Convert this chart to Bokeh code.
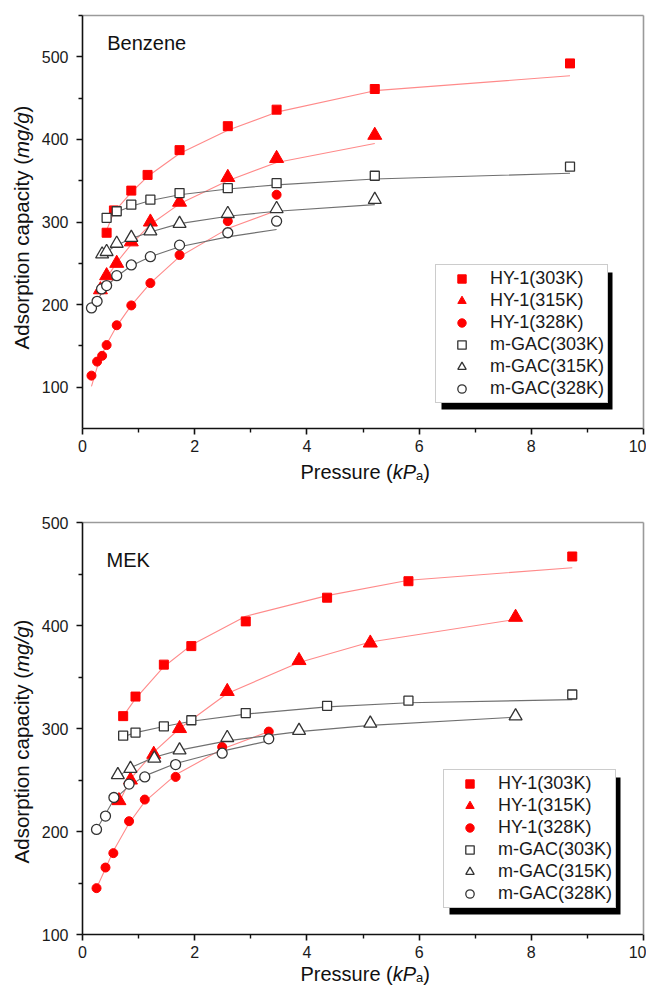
import math
from bokeh.plotting import figure
from bokeh.layouts import column, row
from bokeh.models import (Range1d, FixedTicker, Legend, LegendItem, Label,
                          BoxAnnotation, LinearAxis)
from bokeh.embed import file_html
from bokeh.resources import INLINE

# ---------------- data ----------------
series_labels = ["HY-1(303K)", "HY-1(315K)", "HY-1(328K)",
                 "m-GAC(303K)", "m-GAC(315K)", "m-GAC(328K)"]
x_major = [0, 2, 4, 6, 8, 10]
x_minor = [1, 3, 5, 7, 9]

# Benzene panel
bz_hy303_x = [0.43, 0.56, 0.87, 1.16, 1.73, 2.59, 3.46, 5.21, 8.69]
bz_hy303_y = [287, 314, 338, 357, 387, 416, 436, 461, 492]
bz_hy303_fit = [290, 312, 336, 355, 383, 411, 433, 459, 477]

bz_hy315_x = [0.32, 0.43, 0.61, 0.87, 1.21, 1.73, 2.59, 3.46, 5.21]
bz_hy315_y = [218, 235, 250, 276, 300, 324, 354, 377, 405]
bz_hy315_fit = [218, 232, 251, 273, 297, 322, 350, 372, 395]

bz_hy328_x = [0.16, 0.26, 0.35, 0.43, 0.61, 0.87, 1.21, 1.73, 2.59, 3.46]
bz_hy328_y = [114, 131, 138, 151, 175, 199, 226, 260, 301, 333]
bz_hy328_fit = [101, 124, 140, 152, 174, 199, 226, 258, 292, 314]

bz_gac303_x = [0.43, 0.61, 0.87, 1.21, 1.73, 2.59, 3.46, 5.21, 8.69]
bz_gac303_y = [305, 313, 321, 327, 335, 341, 347, 356, 367]
bz_gac303_fit = [306, 312, 319, 326, 333, 340, 345, 352, 359]

bz_gac315_x = [0.35, 0.43, 0.61, 0.87, 1.21, 1.73, 2.59, 3.46, 5.21]
bz_gac315_y = [261, 264, 274, 281, 289, 298, 310, 316, 327]
bz_gac315_fit = [258, 264, 272, 280, 288, 298, 307, 313, 321]

bz_gac328_x = [0.16, 0.26, 0.34, 0.43, 0.61, 0.87, 1.21, 1.73, 2.59, 3.46]
bz_gac328_y = [196, 204, 219, 223, 235, 248, 258, 272, 287, 301]
bz_gac328_fit = [194, 204, 214, 222, 234, 247, 258, 270, 282, 291]

bz_y_major = [100, 200, 300, 400, 500]
bz_y_minor = [150, 250, 350, 450, 550]

# MEK panel
mk_hy303_x = [0.725, 0.945, 1.45, 1.94, 2.91, 4.36, 5.81, 8.73]
mk_hy303_y = [312, 331, 362, 380, 404, 427, 443, 467]
mk_hy303_fit = [312, 329, 360, 381, 409, 429, 444, 456]

mk_hy315_x = [0.65, 0.855, 1.27, 1.73, 2.58, 3.86, 5.13, 7.72]
mk_hy315_y = [230, 250, 275, 300, 336, 366, 383, 408]
mk_hy315_fit = [228, 251, 277, 300, 334, 364, 384, 406]

mk_hy328_x = [0.25, 0.41, 0.55, 0.83, 1.11, 1.66, 2.49, 3.32]
mk_hy328_y = [145, 165, 179, 210, 231, 253, 282, 297]
mk_hy328_fit = [145, 164, 181, 208, 229, 255, 280, 297]

mk_gac303_x = [0.725, 0.945, 1.45, 1.94, 2.91, 4.36, 5.81, 8.73]
mk_gac303_y = [293, 296, 302, 308, 315, 322, 327, 333]
mk_gac303_fit = [292, 296, 302, 307, 314, 321, 325, 328]

mk_gac315_x = [0.63, 0.855, 1.28, 1.73, 2.58, 3.86, 5.13, 7.72]
mk_gac315_y = [255, 261, 271, 279, 291, 298, 305, 312]
mk_gac315_fit = [253, 262, 272, 279, 288, 297, 303, 311]

mk_gac328_x = [0.25, 0.41, 0.56, 0.83, 1.11, 1.66, 2.49, 3.32]
mk_gac328_y = [202, 215, 233, 246, 253, 265, 276, 290]
mk_gac328_fit = [202, 217, 231, 244, 254, 266, 278, 288]

mk_y_major = [100, 200, 300, 400, 500]
mk_y_minor = [150, 250, 350, 450]

# ---------------- styling ----------------
FONT = "Liberation Sans"
RED = "#ff0000"
FIT_RED = "#ff8a8a"
GAC = "#333333"
FIT_GRAY = "#707070"
TXT = "#111111"

CW = {' ': 278, '(': 333, ')': 333, '/': 278, 'A': 667, 'd': 556, 's': 500,
      'o': 556, 'r': 333, 'p': 556, 't': 278, 'i': 222, 'n': 556, 'c': 500,
      'a': 556, 'y': 500, 'm': 833, 'g': 556, 'P': 667, 'e': 556, 'u': 556,
      'k': 500}


def tw(s, size):
    return sum(CW.get(c, 556) for c in s) / 1000.0 * size


YLAB_W = 36          # width of the strip holding the vertical axis title
FRAME_LEFT = 82      # page x of the plot frame's left edge
FRAME_W = 561
MAIN_BL = FRAME_LEFT - YLAB_W
MAIN_BR = 3
MAIN_BB = 30

styles = [
    dict(marker="square", size=9, fill_color=RED, line_color=RED, line_width=1),
    dict(marker="triangle", size=14, fill_color=RED, line_color=RED, line_width=1),
    dict(marker="circle", size=9, fill_color=RED, line_color=RED, line_width=1),
    dict(marker="square", size=9, fill_color="white", line_color=GAC, line_width=1.3),
    dict(marker="triangle", size=13, fill_color="white", line_color=GAC, line_width=1.3),
    dict(marker="circle", size=10, fill_color="white", line_color=GAC, line_width=1.3),
]


def strip(w, h, bl=0, br=0):
    s = figure(frame_width=w, frame_height=h, min_border=0,
               min_border_left=bl, min_border_right=br,
               x_range=Range1d(0, w), y_range=Range1d(0, h),
               output_backend="svg", toolbar_location=None)
    s.axis.visible = False
    s.grid.visible = False
    s.outline_line_color = None
    s.background_fill_color = "white"
    s.border_fill_color = "white"
    return s


def make_panel(page_top, border_top, frame_h, y_lo, y_hi, y_major, y_minor,
               data, title, title_xy, legend_rel, ylabel_center, xlab_h,
               xlabel_base):
    p = figure(frame_width=FRAME_W, frame_height=frame_h,
               min_border_left=MAIN_BL, min_border_right=MAIN_BR,
               min_border_top=border_top, min_border_bottom=MAIN_BB,
               x_range=Range1d(0, 10), y_range=Range1d(y_lo, y_hi),
               output_backend="svg", toolbar_location=None)
    p.xgrid.visible = False
    p.ygrid.visible = False
    p.outline_line_color = None
    p.background_fill_color = "white"
    p.border_fill_color = "white"

    frame_top = page_top + border_top
    frame_bottom = frame_top + frame_h
    main_h = border_top + frame_h + MAIN_BB

    def dx(px):
        return (px - FRAME_LEFT) * 10.0 / FRAME_W

    def dy(py):
        return y_lo + (frame_bottom - py) * (y_hi - y_lo) / frame_h

    for ax, maj, mnr in ((p.xaxis[0], x_major, x_minor),
                         (p.yaxis[0], y_major, y_minor)):
        ax.ticker = FixedTicker(ticks=maj, minor_ticks=mnr)
        ax.axis_line_color = TXT
        ax.axis_line_width = 1.6
        ax.major_tick_line_color = TXT
        ax.major_tick_line_width = 1.6
        ax.minor_tick_line_color = TXT
        ax.minor_tick_line_width = 1.4
        ax.major_tick_in = 0
        ax.major_tick_out = 6
        ax.minor_tick_in = 0
        ax.minor_tick_out = 4
        ax.major_label_text_font = FONT
        ax.major_label_text_font_size = "16px"
        ax.major_label_text_color = "#1a1a1a"
    p.yaxis[0].major_label_standoff = 8
    p.xaxis[0].major_label_standoff = 5

    for loc in ("right", "above"):
        a = LinearAxis(ticker=FixedTicker(ticks=[]), axis_line_color="#9a9a9a",
                       axis_line_width=1.6, major_tick_line_color=None,
                       minor_tick_line_color=None, major_label_text_color=None)
        p.add_layout(a, loc)

    # fitted curves first
    for i, (xs, ys, fit) in enumerate(data):
        p.line(xs, fit, line_color=FIT_RED if i < 3 else FIT_GRAY, line_width=1.1)

    # legend shadow
    lg_left, lg_bottom, lg_w, lg_h = legend_rel
    pl = FRAME_LEFT + lg_left
    pb = frame_bottom - lg_bottom
    p.add_layout(BoxAnnotation(left=dx(pl + 6), right=dx(pl + lg_w + 6),
                               bottom=dy(pb + 6), top=dy(pb - lg_h + 6),
                               fill_color="black", fill_alpha=1.0,
                               line_color=None, level="overlay"))

    items = []
    for i, (xs, ys, fit) in enumerate(data):
        r = p.scatter(xs, ys, **styles[i])
        items.append(LegendItem(label=series_labels[i], renderers=[r]))

    legend = Legend(items=items, location=(lg_left, lg_bottom),
                    label_text_font=FONT, label_text_font_size="18px",
                    label_text_color="#1a1a1a",
                    glyph_width=45, glyph_height=21, label_height=21,
                    label_standoff=6, spacing=1, padding=3, margin=0,
                    border_line_color="#9a9a9a", border_line_width=1.2,
                    background_fill_color="white", background_fill_alpha=1.0,
                    level="overlay")
    p.add_layout(legend, "center")

    p.add_layout(Label(x=title_xy[0], y=title_xy[1], text=title,
                       text_font=FONT, text_font_size="20px",
                       text_color=TXT, text_align="left",
                       text_baseline="middle"))

    # x-axis title strip (below the main figure, frame aligned with main frame)
    xs_fig = strip(FRAME_W, xlab_h, bl=MAIN_BL, br=MAIN_BR)
    xsize = 20
    cx = 300.0 - FRAME_LEFT
    base = xlab_h - (xlabel_base - (page_top + main_h))
    xpieces = [("Pressure (", "normal", xsize, 0), ("kP", "italic", xsize, 0),
               ("a", "normal", 13, 4), (")", "normal", xsize, 0)]
    for t, st, sz, dyo in xpieces:
        xs_fig.add_layout(Label(x=cx, y=base - dyo, text=t, text_font=FONT,
                                text_font_size=f"{sz}px", text_font_style=st,
                                text_color=TXT, text_align="left",
                                text_baseline="alphabetic"))
        cx += tw(t, sz)

    # y-axis title strip (left)
    total_h = main_h + xlab_h
    ys_fig = strip(YLAB_W, total_h)
    ysize = 20.5
    pieces = [("Adsorption capacity (", "normal"), ("mg/g", "italic"), (")", "normal")]
    total = sum(tw(t, ysize) for t, _ in pieces)
    cy = (total_h - (ylabel_center - page_top)) - total / 2.0
    for t, st in pieces:
        ys_fig.add_layout(Label(x=21, y=cy, text=t, angle=math.pi / 2,
                                text_font=FONT, text_font_size=f"{ysize}px",
                                text_font_style=st, text_color=TXT,
                                text_align="left", text_baseline="middle"))
        cy += tw(t, ysize)

    return row(ys_fig, column(p, xs_fig, spacing=0), spacing=0)


bz_data = [(bz_hy303_x, bz_hy303_y, bz_hy303_fit),
           (bz_hy315_x, bz_hy315_y, bz_hy315_fit),
           (bz_hy328_x, bz_hy328_y, bz_hy328_fit),
           (bz_gac303_x, bz_gac303_y, bz_gac303_fit),
           (bz_gac315_x, bz_gac315_y, bz_gac315_fit),
           (bz_gac328_x, bz_gac328_y, bz_gac328_fit)]
mk_data = [(mk_hy303_x, mk_hy303_y, mk_hy303_fit),
           (mk_hy315_x, mk_hy315_y, mk_hy315_fit),
           (mk_hy328_x, mk_hy328_y, mk_hy328_fit),
           (mk_gac303_x, mk_gac303_y, mk_gac303_fit),
           (mk_gac315_x, mk_gac315_y, mk_gac315_fit),
           (mk_gac328_x, mk_gac328_y, mk_gac328_fit)]

top = make_panel(page_top=0, border_top=15, frame_h=413, y_lo=50, y_hi=550,
                 y_major=bz_y_major, y_minor=bz_y_minor, data=bz_data,
                 title="Benzene", title_xy=(0.44, 517),
                 legend_rel=(353, 25, 171, 137), ylabel_center=227,
                 xlab_h=30, xlabel_base=471)
bottom = make_panel(page_top=488, border_top=34, frame_h=412, y_lo=100,
                    y_hi=500, y_major=mk_y_major, y_minor=mk_y_minor,
                    data=mk_data, title="MEK", title_xy=(0.43, 464),
                    legend_rel=(361, 26, 171, 137), ylabel_center=741,
                    xlab_h=24, xlabel_base=973)

layout = column(top, bottom, spacing=0)
open("out.html", "w").write(file_html(layout, INLINE))
